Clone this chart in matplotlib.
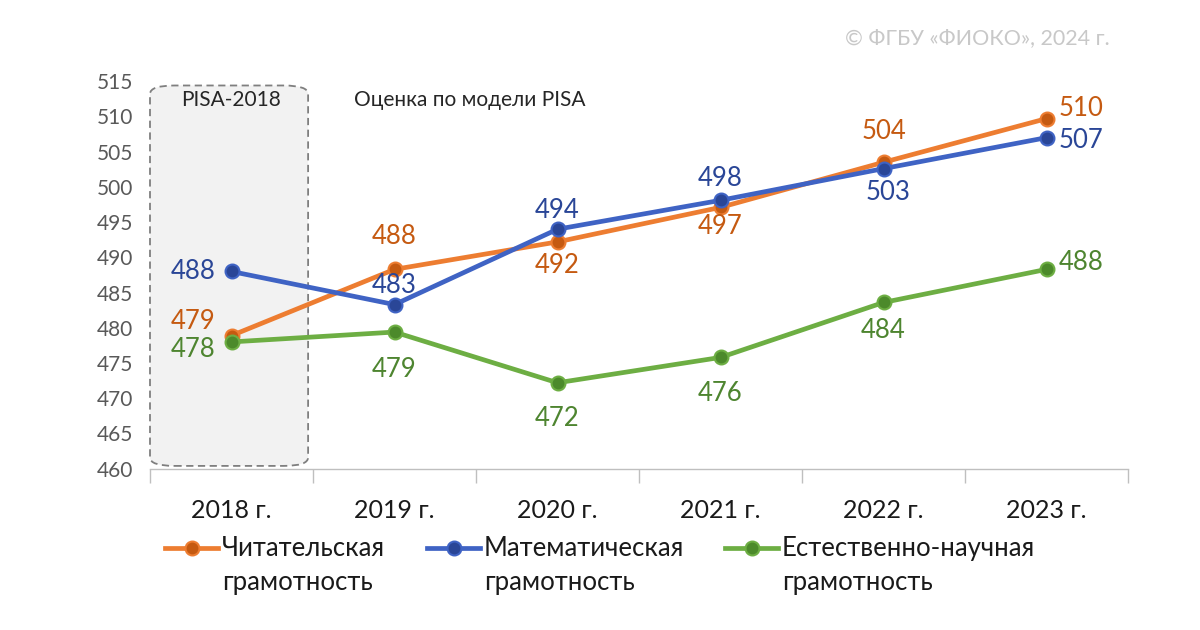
import matplotlib
matplotlib.use("Agg")
import matplotlib.pyplot as plt
from matplotlib.patches import FancyBboxPatch
from matplotlib.lines import Line2D

plt.rcParams['font.family'] = ['Lato', 'DejaVu Sans']

years = ["2018 г.", "2019 г.", "2020 г.", "2021 г.", "2022 г.", "2023 г."]
reading = [478.9, 488.3, 492.2, 497.1, 503.5, 509.7]
math = [488.0, 483.3, 494.0, 498.1, 502.6, 507.0]
science = [478.0, 479.4, 472.2, 475.8, 483.6, 488.3]
series_names = ["Читательская\nграмотность", "Математическая\nграмотность", "Естественно-научная\nграмотность"]
yticks = [460, 465, 470, 475, 480, 485, 490, 495, 500, 505, 510, 515]

# label offsets in pixels (dx, dy) and horizontal alignment per point
reading_off = [(-16, 14, 'right'), (0, 33, 'center'), (0, -24, 'center'),
               (0, -19, 'center'), (0, 31, 'center'), (12, 10, 'left')]
math_off = [(-16, 0, 'right'), (0, 19, 'center'), (0, 19, 'center'),
            (0, 22, 'center'), (5, -24, 'center'), (12, -3, 'left')]
science_off = [(-16, -8, 'right'), (0, -37, 'center'), (0, -36, 'center'),
               (0, -36, 'center'), (0, -28, 'center'), (12, 7, 'left')]

line_colors = ['#ED7D31', '#3F63C4', '#6DAE43']
face_colors = ['#C55A11', '#2A4697', '#4C8A2B']
text_colors = ['#C55A11', '#2A4697', '#4E8530']

fig = plt.figure(figsize=(12, 6.3), dpi=100)
ax = fig.add_axes([0.125, 0.256, 0.815, 0.615])
x = list(range(len(years)))
ax.set_xlim(-0.5, len(years) - 0.5)
ax.set_ylim(460, 515)

# PISA-2018 box
box = FancyBboxPatch((-0.5, 460.4), 0.97, 54.0,
                     boxstyle="round,pad=0,rounding_size=0.15",
                     mutation_aspect=8.0,
                     facecolor='#F2F2F2', edgecolor='#7F7F7F',
                     linestyle=(0, (4, 2.5)), linewidth=1.3, zorder=0.5,
                     clip_on=False)
ax.add_patch(box)
ax.text(-0.005, 512.4, "PISA-2018", ha='center', va='center', fontsize=15, color='#262626')
ax.text(0.75, 512.4, "Оценка по модели PISA", ha='left', va='center', fontsize=15, color='#262626')

for vals, offs, lc, fc, tc in zip([reading, math, science],
                                  [reading_off, math_off, science_off],
                                  line_colors, face_colors, text_colors):
    ax.plot(x, vals, color=lc, linewidth=3.4, marker='o', markersize=10,
            markerfacecolor=fc, markeredgecolor=lc, markeredgewidth=1.5, zorder=3,
            solid_capstyle='round')
    for xi, v, (dx, dy, ha) in zip(x, vals, offs):
        ax.annotate(f"{round(v):d}", (xi, v), xytext=(dx, dy), textcoords='offset pixels',
                    ha=ha, va='center', fontsize=18.5, color=tc, zorder=4)

ax.set_yticks(yticks)
ax.tick_params(axis='y', length=0, labelsize=15, labelcolor='#595959', pad=12)
ax.set_xticks(x)
ax.set_xticklabels(years)
ax.tick_params(axis='x', length=0, labelsize=18, labelcolor='#1a1a1a', pad=22)
ax.set_xticks([i - 0.5 for i in range(len(years) + 1)], minor=True)
ax.tick_params(axis='x', which='minor', length=10, color='#BFBFBF', width=1)
for s in ['top', 'right', 'left']:
    ax.spines[s].set_visible(False)
ax.spines['bottom'].set_color('#BFBFBF')
ax.spines['bottom'].set_linewidth(1)

# manual legend: handle aligned with first text line
W, H = 1200, 630
leg_x = [165, 427, 725]
leg_y = 548
for lx, lc, fc, name in zip(leg_x, line_colors, face_colors, series_names):
    fig.add_artist(Line2D([lx / W, (lx + 53) / W], [1 - leg_y / H, 1 - leg_y / H],
                          transform=fig.transFigure, color=lc, linewidth=3.4))
    fig.add_artist(Line2D([(lx + 26.5) / W], [1 - leg_y / H], transform=fig.transFigure,
                          marker='o', markersize=10, markerfacecolor=fc,
                          markeredgecolor=lc, markeredgewidth=1.5, linestyle='none'))
    fig.text((lx + 57) / W, 1 - 536 / H, name, ha='left', va='top', fontsize=18.5,
             color='#1a1a1a', linespacing=1.45)

fig.text(0.925, 0.94, "© ФГБУ «ФИОКО», 2024 г.", ha='right', va='center', fontsize=15.5, color='#C8C8C8')

fig.savefig("out.png", dpi=100)
